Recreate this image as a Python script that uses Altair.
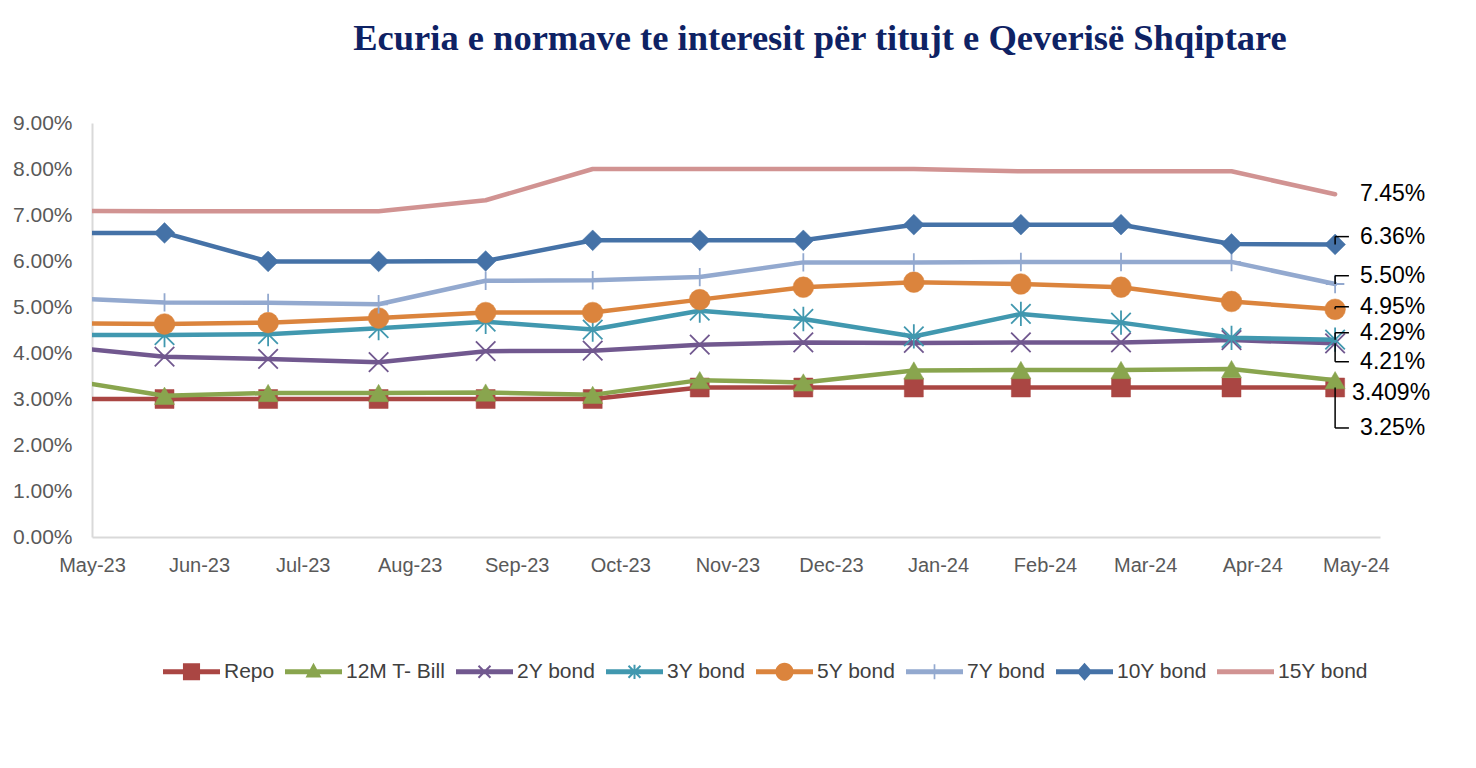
import altair as alt
import pandas as pd

# ---------------- data ----------------
series = ["Repo", "12M T- Bill", "2Y bond", "3Y bond", "5Y bond", "7Y bond", "10Y bond", "15Y bond"]
dates = ["2023-04-21", "2023-05-22", "2023-06-21", "2023-07-23", "2023-08-23", "2023-09-23",
         "2023-10-24", "2023-11-23", "2023-12-25", "2024-01-25", "2024-02-23", "2024-03-26",
         "2024-04-25"]

repo   = [3.00, 3.00, 3.00, 3.00, 3.00, 3.00, 3.25, 3.25, 3.25, 3.25, 3.25, 3.25, 3.25]
tbill  = [3.45, 3.07, 3.13, 3.13, 3.14, 3.09, 3.41, 3.36, 3.62, 3.63, 3.63, 3.65, 3.409]
bond2  = [4.15, 3.92, 3.87, 3.80, 4.04, 4.05, 4.18, 4.23, 4.22, 4.23, 4.23, 4.28, 4.21]
bond3  = [4.39, 4.39, 4.41, 4.54, 4.68, 4.51, 4.92, 4.74, 4.36, 4.85, 4.66, 4.33, 4.29]
bond5  = [4.645, 4.63, 4.66, 4.76, 4.88, 4.88, 5.16, 5.43, 5.54, 5.50, 5.43, 5.12, 4.95]
bond7  = [5.20, 5.10, 5.09, 5.06, 5.57, 5.58, 5.65, 5.97, 5.97, 5.98, 5.98, 5.98, 5.50]
bond10 = [6.61, 6.61, 5.99, 5.99, 6.00, 6.45, 6.45, 6.45, 6.79, 6.79, 6.79, 6.37, 6.36]
bond15 = [7.09, 7.08, 7.08, 7.08, 7.32, 8.00, 8.00, 8.00, 8.00, 7.95, 7.95, 7.95, 7.45]

end_labels = ["3.25%", "3.409%", "4.21%", "4.29%", "4.95%", "5.50%", "6.36%", "7.45%"]

title_text = "Ecuria e normave te interesit për titujt e Qeverisë Shqiptare"

# ---------------- styles / layout ----------------
colors = ["#AA4643", "#89A54E", "#71588F", "#4198AF", "#DB843D", "#93A9CF", "#4572A7", "#D19392"]

X_PATH = "M-1,-1L1,1M-1,1L1,-1"
STAR_PATH = "M-1,-1L1,1M-1,1L1,-1M0,-1.25L0,1.25"
PLUS_PATH = "M0,-1L0,1M-1,0L1,0"
markers = [("square", 361, True), ("triangle-up", 400, True), (X_PATH, 380, False),
           (STAR_PATH, 380, False), ("circle", 430, True), (PLUS_PATH, 340, False),
           ("diamond", 430, True), None]

LINE = "M-1,-0.088L1,-0.088L1,0.088L-1,0.088Z"
XBAR = ("M-0.235,-0.185L-0.185,-0.235L0.235,0.185L0.185,0.235Z"
        "M0.235,-0.185L-0.185,0.235L-0.235,0.185L0.185,-0.235Z")
VBAR = "M-0.035,-0.25L0.035,-0.25L0.035,0.25L-0.035,0.25Z"
legend_paths = [
    LINE + "M-0.3,-0.3L0.3,-0.3L0.3,0.3L-0.3,0.3Z",
    LINE + "M0,-0.32L0.28,0.2L-0.28,0.2Z",
    LINE + XBAR,
    LINE + XBAR + VBAR,
    LINE + "M-0.32,0A0.32,0.32,0,1,1,0.32,0A0.32,0.32,0,1,1,-0.32,0Z",
    LINE + "M-0.03,-0.26L0.03,-0.26L0.03,0.26L-0.03,0.26Z",
    LINE + "M0,-0.32L0.28,0L0,0.32L-0.28,0Z",
    LINE,
]

label_dy = [-0.88, -0.275, -0.40, 0.15, 0.055, 0.18, 0.17, 0.0]
label_dx_px = [25, 17, 25, 25, 25, 25, 25, 25]
leader = [True, False, True, True, True, True, True, False]

# ---------------- build table ----------------
values = [repo, tbill, bond2, bond3, bond5, bond7, bond10, bond15]
rows = []
for s, vals in zip(series, values):
    for i, (d, v) in enumerate(zip(dates, vals)):
        rows.append({"series": s, "date": d, "rate": v / 100.0, "idx": i})
df = pd.DataFrame(rows)

last_date = pd.Timestamp(dates[-1])
lab_rows = []
lead_rows = []
for s, vals, lab, dy, lk in zip(series, values, end_labels, label_dy, leader):
    v = vals[-1]
    ly = (v + dy) / 100.0
    lab_rows.append({"series": s, "date": dates[-1], "ly": ly, "label": lab})
    if lk:
        lead_rows.append({"series": s, "x1": dates[-1], "x2": dates[-1], "y1": v / 100.0, "y2": ly})
        lead_rows.append({"series": s, "x1": dates[-1],
                          "x2": (last_date + pd.Timedelta(days=4)).strftime("%Y-%m-%d"),
                          "y1": ly, "y2": ly})
lab_df = pd.DataFrame(lab_rows)
lead_df = pd.DataFrame(lead_rows)

# ---------------- scales ----------------
x_scale = alt.Scale(type="utc",
                    domain=[alt.DateTime(year=2023, month=5, date=1, utc=True),
                            alt.DateTime(year=2024, month=5, date=8, utc=True)])
y_scale = alt.Scale(domain=[0, 0.09])

x_axis = alt.Axis(format="%b-%y", tickCount={"interval": "month", "step": 1}, grid=False,
                  ticks=False, domainColor="#D9D9D9", domainWidth=2, labelFont="Liberation Sans",
                  labelFontSize=20, labelColor="#595959", labelPadding=18, title=None,
                  labelOverlap=False, labelFlush=False)
y_axis = alt.Axis(format=".2%", tickCount=10, grid=False, ticks=False, domainColor="#D9D9D9",
                  domainWidth=2, labelFont="Liberation Sans", labelFontSize=21,
                  labelColor="#595959", labelPadding=20, title=None)

X = alt.X("date:T", scale=x_scale, axis=x_axis)
Y = alt.Y("rate:Q", scale=y_scale, axis=y_axis)
Xn = alt.X("date:T", scale=x_scale)
Yn = alt.Y("rate:Q", scale=y_scale)

base = alt.Chart(df)
layers = []
for k, s in enumerate(series):
    sub = base.transform_filter(alt.datum.series == s)
    enc_x = X if k == 0 else Xn
    enc_y = Y if k == 0 else Yn
    layers.append(sub.mark_line(color=colors[k], strokeWidth=4.5, strokeJoin="round",
                                strokeCap="round", clip=True).encode(x=enc_x, y=enc_y))
    m = markers[k]
    if m is not None:
        shape, size, filled = m
        pts = sub.transform_filter(alt.datum.idx > 0)
        if filled:
            mk = pts.mark_point(shape=shape, size=size, filled=True, fill=colors[k],
                                stroke=colors[k], strokeWidth=0.5, opacity=1, clip=True)
        else:
            mk = pts.mark_point(shape=shape, size=size, filled=False, stroke=colors[k],
                                strokeWidth=1.8, opacity=1, clip=True)
        layers.append(mk.encode(x=Xn, y=Yn))

legend_cfg = alt.Legend(title=None, orient="none", legendX=71, legendY=520,
                        direction="horizontal", columns=8, symbolSize=3249,
                        symbolStrokeWidth=0, labelFont="Liberation Sans", labelFontSize=21,
                        labelColor="#404040", labelOffset=4, columnPadding=10, padding=0)
legend_layer = base.transform_filter(alt.datum.idx == 0).mark_point(
    filled=True, opacity=1, clip=True, size=200).encode(
    x=Xn, y=Yn,
    color=alt.Color("series:N", scale=alt.Scale(domain=series, range=colors), legend=legend_cfg),
    shape=alt.Shape("series:N", scale=alt.Scale(domain=series, range=legend_paths), legend=legend_cfg),
)
layers.append(legend_layer)

lead = alt.Chart(lead_df).mark_rule(color="black", strokeWidth=1.5).encode(
    x=alt.X("x1:T", scale=x_scale), x2="x2:T",
    y=alt.Y("y1:Q", scale=y_scale), y2="y2:Q")
layers.append(lead)

for k, s in enumerate(series):
    t = alt.Chart(lab_df).transform_filter(alt.datum.series == s).mark_text(
        align="left", baseline="middle", dx=label_dx_px[k], font="Liberation Sans",
        fontSize=23, color="black").encode(
        x=alt.X("date:T", scale=x_scale), y=alt.Y("ly:Q", scale=y_scale), text="label:N")
    layers.append(t)

chart = alt.layer(*layers).properties(
    width=1288, height=414,
    title=alt.TitleParams(text=title_text, font="Liberation Serif", fontSize=36.5,
                          fontWeight="bold", color="#0E2264", anchor="middle", dx=84,
                          offset=55),
    padding={"left": 4, "top": 12, "right": 10, "bottom": 10},
).configure_view(stroke=None)

chart.save("out.html", embed_options={"renderer": "svg", "actions": False})
